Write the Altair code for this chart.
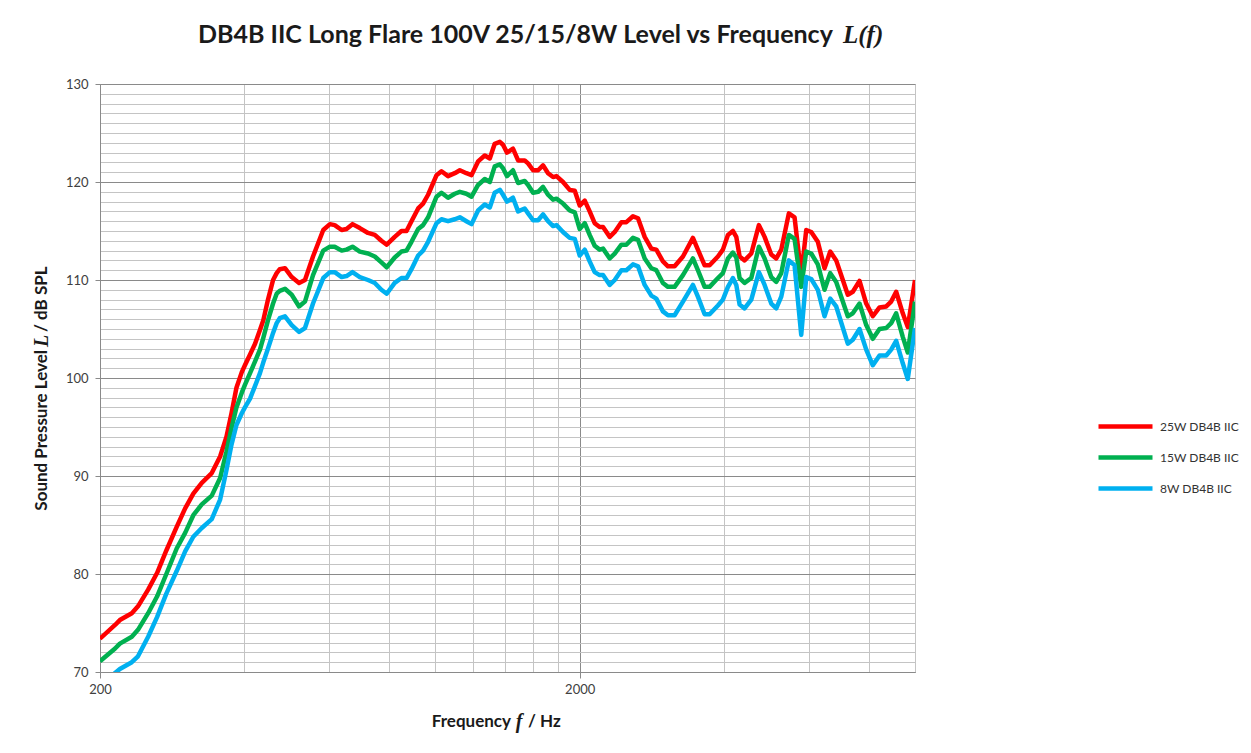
import altair as alt
import pandas as pd

# ---------------- data ----------------
freq_hz = [
    200, 215, 220, 233, 240, 252, 263, 275, 289, 301,
    313, 326, 342, 356, 367, 376, 385, 395, 401, 411,
    421, 431, 438, 448, 459, 467, 474, 486, 502, 520,
    535, 556, 584, 603, 617, 638, 653, 672, 696, 724,
    748, 772, 792, 823, 850, 871, 892, 921, 943, 966,
    1006, 1030, 1063, 1098, 1125, 1161, 1190, 1228, 1268, 1299,
    1330, 1363, 1384, 1411, 1452, 1488, 1536, 1561, 1599, 1638,
    1677, 1718, 1760, 1789, 1846, 1906, 1953, 2000, 2049, 2098,
    2149, 2201, 2237, 2310, 2366, 2443, 2502, 2583, 2646, 2732,
    2821, 2889, 2982, 3055, 3154, 3283, 3444, 3527, 3643, 3731,
    3883, 3977, 4074, 4172, 4241, 4309, 4413, 4558, 4727, 4858,
    5016, 5138, 5263, 5458, 5609, 5792, 5933, 6077, 6272, 6477,
    6657, 6851, 7243, 7419, 7662, 7913, 8167, 8434, 8710, 8920,
    9136, 9430, 9659, 10000,
]

level_25w = [
    73.4, 74.8, 75.3, 76.0, 76.7, 78.4, 80.1, 82.4, 84.8, 86.7,
    88.2, 89.3, 90.3, 92.0, 94.0, 96.4, 99.0, 100.6, 101.3, 102.4,
    103.5, 104.9, 105.9, 108.0, 110.0, 110.7, 111.1, 111.2, 110.3, 109.7,
    110.0, 112.4, 115.1, 115.7, 115.6, 115.1, 115.2, 115.7, 115.3, 114.8,
    114.6, 114.0, 113.6, 114.4, 115.0, 115.0, 116.0, 117.3, 117.8, 118.7,
    120.7, 121.1, 120.6, 120.9, 121.2, 120.9, 120.7, 122.1, 122.7, 122.4,
    123.9, 124.1, 123.8, 123.0, 123.4, 122.2, 122.2, 121.9, 121.2, 121.2,
    121.7, 120.9, 120.5, 120.6, 120.0, 119.2, 119.1, 117.6, 118.1, 117.0,
    115.8, 115.4, 115.4, 114.4, 114.9, 115.9, 115.9, 116.5, 116.3, 114.4,
    113.2, 113.1, 111.9, 111.4, 111.4, 112.4, 114.3, 113.1, 111.5, 111.5,
    112.4, 113.1, 114.6, 115.0, 114.4, 112.4, 112.0, 112.7, 115.6, 114.4,
    112.6, 112.2, 113.1, 116.8, 116.4, 110.5, 115.1, 114.9, 113.9, 111.2,
    112.9, 112.0, 108.5, 108.8, 109.9, 107.6, 106.3, 107.2, 107.3, 107.8,
    108.8, 106.6, 105.2, 110.0,
]

level_15w = [
    71.1, 72.4, 72.9, 73.6, 74.3, 76.0, 77.7, 80.0, 82.6, 84.2,
    86.0, 87.1, 88.0, 89.8, 92.5, 94.9, 97.0, 98.5, 99.3, 100.5,
    101.7, 102.9, 104.1, 105.9, 107.6, 108.6, 108.9, 109.1, 108.5, 107.3,
    107.8, 110.5, 113.0, 113.4, 113.4, 113.0, 113.1, 113.4, 112.9, 112.7,
    112.4, 111.8, 111.3, 112.3, 112.9, 113.0, 113.9, 115.2, 115.6, 116.4,
    118.5, 118.9, 118.4, 118.8, 119.0, 118.8, 118.5, 119.7, 120.3, 120.0,
    121.6, 121.8, 121.4, 120.6, 121.2, 119.9, 120.1, 119.7, 118.9, 119.0,
    119.5, 118.7, 118.2, 118.3, 117.8, 117.1, 116.9, 115.2, 115.8, 114.6,
    113.5, 113.1, 113.2, 112.2, 112.7, 113.6, 113.6, 114.3, 114.1, 112.2,
    111.2, 111.0, 109.7, 109.3, 109.3, 110.5, 112.2, 111.0, 109.3, 109.3,
    110.2, 110.7, 112.2, 112.8, 112.3, 110.2, 109.7, 110.2, 113.4, 112.2,
    110.3, 109.8, 110.7, 114.6, 114.2, 109.3, 112.9, 112.7, 111.6, 109.0,
    110.7, 109.8, 106.3, 106.6, 107.6, 105.4, 104.0, 105.0, 105.1, 105.6,
    106.6, 104.2, 102.6, 107.8,
]

level_8w = [
    68.4, 69.9, 70.3, 71.0, 71.6, 73.6, 75.6, 78.0, 80.3, 82.3,
    83.8, 84.7, 85.6, 87.6, 90.6, 93.2, 95.2, 96.4, 97.0, 97.9,
    99.2, 100.5, 101.6, 103.0, 104.6, 105.6, 106.1, 106.3, 105.4, 104.7,
    105.1, 107.6, 110.2, 110.8, 110.8, 110.3, 110.4, 110.8, 110.3, 110.0,
    109.7, 109.0, 108.6, 109.7, 110.2, 110.2, 111.1, 112.5, 113.0, 113.9,
    115.8, 116.2, 116.0, 116.2, 116.4, 116.0, 115.7, 117.1, 117.7, 117.4,
    118.9, 119.2, 118.7, 118.0, 118.4, 117.0, 117.3, 116.8, 116.1, 116.1,
    116.7, 116.0, 115.5, 115.6, 114.9, 114.3, 114.2, 112.5, 113.1, 111.9,
    110.8, 110.5, 110.5, 109.5, 110.0, 111.0, 111.0, 111.6, 111.4, 109.5,
    108.4, 108.1, 106.8, 106.4, 106.4, 107.8, 109.5, 108.3, 106.5, 106.5,
    107.4, 108.0, 109.3, 110.2, 109.5, 107.5, 107.1, 108.0, 110.8, 109.5,
    107.6, 107.1, 108.3, 112.0, 111.5, 104.4, 110.3, 110.1, 109.0, 106.3,
    108.1, 107.3, 103.5, 103.9, 105.0, 102.9, 101.3, 102.3, 102.3, 102.9,
    103.8, 101.5, 99.9, 105.1,
]

series_names = ["25W DB4B IIC", "15W DB4B IIC", "8W DB4B IIC"]
series_colors = ["#FF0000", "#00B050", "#00B0F0"]

x_gridlines = [200, 400, 600, 800, 1000, 1200, 1400, 1600, 1800,
               2000, 4000, 6000, 8000, 10000]
x_labelled = [200, 2000]
y_gridlines = list(range(70, 131))
y_labelled = [70, 80, 90, 100, 110, 120, 130]

title_main = "DB4B IIC Long Flare 100V 25/15/8W Level vs Frequency"
title_symbol = "L(f)"
x_title_parts = ["Frequency", "f", "/ Hz"]
y_title_parts = ["Sound Pressure Level", "L", "/ dB SPL"]

# ---------------- build table ----------------
rows = []
for name, vals in zip(series_names, [level_25w, level_15w, level_8w]):
    for f, v in zip(freq_hz, vals):
        rows.append({"freq": f, "level": v, "series": name})
df = pd.DataFrame(rows)

SANS = "Lato"
SERIF = "Liberation Serif"
MAJOR = "#8a8a8a"
MINOR = "#c4c4c4"
LABEL = "#404040"
DARK = "#1a1a1a"

x_major_test = f"indexof({x_labelled}, datum.value) >= 0"
y_major_test = f"indexof({y_labelled}, datum.value) >= 0"

x_axis = alt.Axis(
    values=x_gridlines,
    format="d",
    labelExpr=f"({x_major_test}) ? datum.label : ''",
    title=None,
    grid=True,
    gridWidth=1,
    gridColor={"condition": {"test": x_major_test, "value": MAJOR}, "value": MINOR},
    tickColor=MAJOR,
    tickSize=6,
    tickOpacity={"condition": {"test": x_major_test, "value": 1}, "value": 0},
    domainColor=MAJOR,
    labelFont=SANS,
    labelFontSize=13,
    labelColor=LABEL,
    labelPadding=5,
    labelFlush=False,
    labelOverlap=False,
)

y_axis = alt.Axis(
    values=y_gridlines,
    labelExpr=f"({y_major_test}) ? datum.label : ''",
    title=None,
    grid=True,
    gridWidth=1,
    gridColor={"condition": {"test": y_major_test, "value": MAJOR}, "value": MINOR},
    tickColor=MAJOR,
    tickSize=5,
    tickOpacity={"condition": {"test": y_major_test, "value": 1}, "value": 0},
    domainColor=MAJOR,
    labelFont=SANS,
    labelFontSize=13,
    labelColor=LABEL,
    labelPadding=7,
    labelOverlap=False,
)

lines = alt.Chart(df).mark_line(
    strokeWidth=4.5, clip=True, strokeJoin="round"
).encode(
    x=alt.X("freq:Q", scale=alt.Scale(type="log", domain=[200, 10000], nice=False), axis=x_axis),
    y=alt.Y("level:Q", scale=alt.Scale(domain=[70, 130], nice=False, zero=False), axis=y_axis),
    color=alt.Color(
        "series:N",
        scale=alt.Scale(domain=series_names, range=series_colors),
        legend=alt.Legend(
            title=None,
            orient="none",
            legendX=1014,
            legendY=331,
            padding=0,
            symbolType="M-3,0H3",
            symbolSize=324,
            symbolStrokeWidth=4.5,
            labelOffset=23,
            rowPadding=10,
            labelFont=SANS,
            labelFontSize=12,
            labelColor="#333333",
        ),
    ),
    detail="series:N",
)


def text_layer(s, x, y, **kw):
    return alt.Chart(pd.DataFrame({"t": [s]})).mark_text(**kw).encode(
        x=alt.value(x), y=alt.value(y), text="t:N"
    )


texts = [
    text_layer(title_main, 98, -49, align="left", baseline="middle",
               font=SANS, fontSize=25, fontWeight="bold", color=DARK),
    text_layer(title_symbol, 743, -49, align="left", baseline="middle",
               font=SERIF, fontSize=25, fontStyle="italic", fontWeight="bold", color=DARK),
    text_layer(x_title_parts[0], 411, 638, align="right", baseline="middle",
               font=SANS, fontSize=17, fontWeight="bold", color=DARK),
    text_layer(x_title_parts[1], 419, 638, align="center", baseline="middle",
               font=SERIF, fontSize=20, fontStyle="italic", fontWeight="bold", color=DARK),
    text_layer(x_title_parts[2], 428, 638, align="left", baseline="middle",
               font=SANS, fontSize=17, fontWeight="bold", color=DARK),
    text_layer(y_title_parts[0], -58, 266, align="right", baseline="middle", angle=270,
               font=SANS, fontSize=17, fontWeight="bold", color=DARK),
    text_layer(y_title_parts[1], -58, 257, align="center", baseline="middle", angle=270,
               font=SERIF, fontSize=20, fontStyle="italic", fontWeight="bold", color=DARK),
    text_layer(y_title_parts[2], -58, 248, align="left", baseline="middle", angle=270,
               font=SANS, fontSize=17, fontWeight="bold", color=DARK),
]

chart = alt.layer(lines, *texts).properties(
    width=815,
    height=588,
    autosize=alt.AutoSizeParams(type="none"),
    padding={"left": 92, "top": 76, "right": 328, "bottom": 70},
    background="white",
).configure_view(stroke="#bfbfbf", strokeWidth=1)

chart.save("out.html", embed_options={"renderer": "svg", "actions": False})
